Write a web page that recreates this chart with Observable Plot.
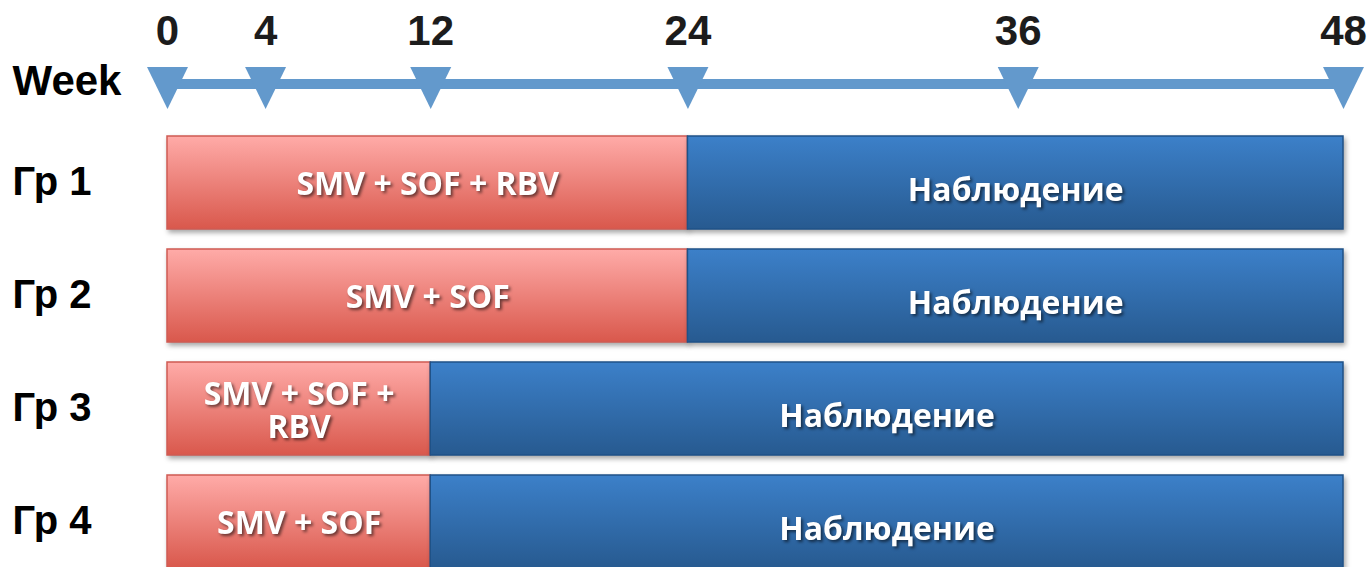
<!DOCTYPE html>
<html>
<head>
<meta charset="utf-8">
<script src="https://cdn.jsdelivr.net/npm/d3@7"></script>
<script src="https://cdn.jsdelivr.net/npm/@observablehq/plot@0.6"></script>
<style>
  html, body { margin: 0; padding: 0; background: #ffffff; }
  #chart svg { display: block; }
  g[aria-description="bar-label"] { filter: drop-shadow(2px 2px 1.5px rgba(0,0,0,0.55)); }
  g[aria-description="bar-shape"] { filter: drop-shadow(2px 3px 2.5px rgba(0,0,0,0.35)); }
</style>
</head>
<body>
<div id="chart"></div>
<script>
// ---- data ----
const weeks = [0, 4, 12, 24, 36, 48];
const groups = ["Гр 1", "Гр 2", "Гр 3", "Гр 4"];
const treatments = ["SMV + SOF + RBV", "SMV + SOF", "SMV + SOF +\nRBV", "SMV + SOF"];
const treatmentEnd = [24, 24, 12, 12];
const followUpLabel = "Наблюдение";
const studyStart = 0;
const studyEnd = 48;
const axisTitle = "Week";

const rows = groups.map((g, i) => ({
  group: g,
  treatment: treatments[i],
  start: studyStart,
  end: treatmentEnd[i],
  stop: studyEnd
}));

// ---- uneven (piecewise) time axis, as in the original slide ----
const tickSpacing = [0, 98, 263, 520, 850, 1175];   // relative spacing of the week marks
const warp = d3.scaleLinear().domain(weeks).range(tickSpacing);
const mid = (a, b) => warp.invert((warp(a) + warp(b)) / 2);

const blue = "#6399CC";
const downTriangle = {
  draw(ctx, size) {
    const k = Math.sqrt(size / Math.PI);
    ctx.moveTo(-0.976 * k, -0.81 * k);
    ctx.lineTo(0.976 * k, -0.81 * k);
    ctx.lineTo(0, 1.19 * k);
    ctx.closePath();
  }
};

const bold = { fontFamily: "Liberation Sans, Arial, sans-serif", fontWeight: "bold" };
const inBar = { fontFamily: "Open Sans, sans-serif", fontWeight: "bold", fontSize: 32, fill: "white", lineHeight: 1.02, ariaDescription: "bar-label" };

const svg = Plot.plot({
  width: 1367,
  height: 567,
  marginLeft: 12,
  marginRight: 0,
  marginTop: 0,
  marginBottom: 0,
  style: { background: "white", overflow: "visible" },
  x: { type: "linear", transform: warp, domain: [warp(studyStart), warp(studyEnd)], range: [167, 1343], axis: null },
  y: {
    domain: [axisTitle, ...groups],
    range: [11.5, 580],
    paddingInner: 0.173,
    paddingOuter: 0.0865,
    axis: null
  },
  marks: [
    // timeline
    Plot.ruleY([axisTitle], { x1: studyStart, x2: studyEnd, stroke: blue, strokeWidth: 10, dy: 14 }),
    Plot.dot(weeks, { x: d => d, y: () => axisTitle, symbol: downTriangle, r: 21, fill: blue, stroke: "none", dy: 14 }),
    Plot.text(weeks, { x: d => d, y: () => axisTitle, text: d => String(d), dy: -38, fontSize: 42, fill: "#1c1c1c", ...bold }),
    Plot.text([axisTitle], { y: d => d, frameAnchor: "left", textAnchor: "start", dy: 12, fontSize: 42, fill: "#000", ...bold }),
    // group labels
    Plot.text(groups, { y: d => d, frameAnchor: "left", textAnchor: "start", dy: -1, fontSize: 40, fill: "#000", ...bold }),
    // bars
    Plot.barX(rows, { x1: "start", x2: "end", y: "group", fill: "url(#gradRed)", stroke: "#CF5B53", strokeWidth: 1.5, ariaDescription: "bar-shape" }),
    Plot.barX(rows, { x1: "end", x2: "stop", y: "group", fill: "url(#gradBlue)", stroke: "#1F5288", strokeWidth: 1.5, ariaDescription: "bar-shape" }),
    // bar labels
    Plot.text(rows, { x: d => mid(d.start, d.end), y: "group", text: d => d.treatment, dy: 2, ...inBar }),
    Plot.text(rows, { x: d => mid(d.end, d.stop), y: "group", text: () => followUpLabel, dy: 8, ...inBar })
  ]
});

// gradients
const defs = d3.select(svg).insert("defs", ":first-child");
const addGrad = (id, top, bottom) => {
  const g = defs.append("linearGradient").attr("id", id).attr("x1", 0).attr("y1", 0).attr("x2", 0).attr("y2", 1);
  g.append("stop").attr("offset", "0%").attr("stop-color", top);
  g.append("stop").attr("offset", "100%").attr("stop-color", bottom);
};
addGrad("gradRed", "#FFABA8", "#D9584C");
addGrad("gradBlue", "#3C80C9", "#275A90");

document.getElementById("chart").appendChild(svg);
</script>
</body>
</html>
